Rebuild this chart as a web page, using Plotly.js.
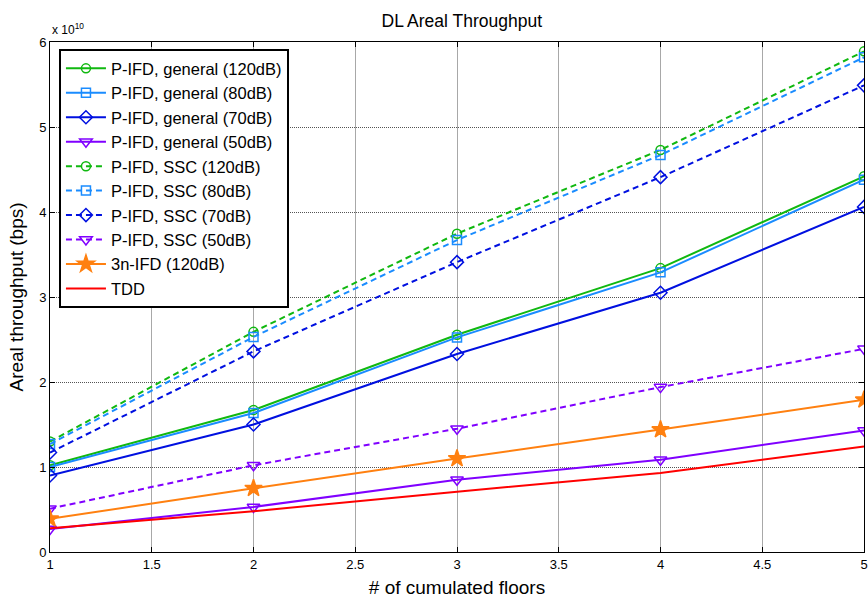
<!DOCTYPE html>
<html>
<head>
<meta charset="utf-8">
<script src="https://cdn.plot.ly/plotly-3.0.1.min.js"></script>
<style>html,body{margin:0;padding:0;background:#fff;}#chart{width:868px;height:600px;}</style>
</head>
<body>
<div id="chart"></div>
<script>
// x values: number of cumulated floors
const floors = [1, 2, 3, 4, 5];
// y values in units of 1e10 bps
const general120 = [1.02, 1.67, 2.556, 3.34, 4.42];
const general80 = [1.00, 1.635, 2.525, 3.29, 4.38];
const general70 = [0.90, 1.50, 2.33, 3.05, 4.06];
const general50 = [0.27, 0.53, 0.85, 1.086, 1.43];
const ssc120 = [1.30, 2.59, 3.745, 4.73, 5.89];
const ssc80 = [1.27, 2.53, 3.67, 4.67, 5.82];
const ssc70 = [1.17, 2.36, 3.41, 4.41, 5.49];
const ssc50 = [0.51, 1.02, 1.45, 1.94, 2.39];
const ifd3n120 = [0.39, 0.75, 1.10, 1.44, 1.79];
const tdd = [0.28, 0.48, 0.71, 0.93, 1.24];

const names = ["P-IFD, general (120dB)", "P-IFD, general (80dB)", "P-IFD, general (70dB)", "P-IFD, general (50dB)",
  "P-IFD, SSC (120dB)", "P-IFD, SSC (80dB)", "P-IFD, SSC (70dB)", "P-IFD, SSC (50dB)", "3n-IFD (120dB)", "TDD"];
const yTickVals = [0, 1, 2, 3, 4, 5, 6];
const xTickVals = [1, 1.5, 2, 2.5, 3, 3.5, 4, 4.5, 5];

const cGreen = "#10b810", cLight = "#1a8cff", cBlue = "#0010e0", cPurple = "#8000ff", cOrange = "#ff8010", cRed = "#ff0000";
const dashP = "6px,4px";

function tr(y, name, color, symbol, dash, size) {
  const t = {x: floors, y: y, name: name, type: "scatter",
    mode: symbol ? "lines+markers" : "lines",
    line: {color: color, width: 2, dash: dash || "solid"}};
  if (symbol) {
    t.marker = {symbol: symbol, size: size || 9, color: color, line: {color: color, width: 1.5}};
  }
  return t;
}

const data = [
  tr(general120, names[0], cGreen, "circle-open", null, 9),
  tr(general80, names[1], cLight, "square-open", null, 9),
  tr(general70, names[2], cBlue, "diamond-open", null, 10),
  tr(general50, names[3], cPurple, "triangle-down-open", null, 11),
  tr(ssc120, names[4], cGreen, "circle-open", dashP, 9),
  tr(ssc80, names[5], cLight, "square-open", dashP, 9),
  tr(ssc70, names[6], cBlue, "diamond-open", dashP, 10),
  tr(ssc50, names[7], cPurple, "triangle-down-open", dashP, 11),
  tr(ifd3n120, names[8], cOrange, "star", null, 13),
  tr(tdd, names[9], cRed, null, null)
];

const font = "Liberation Sans, Arial, sans-serif";
const layout = {
  width: 868, height: 600,
  margin: {l: 50, r: 4, t: 42, b: 48},
  paper_bgcolor: "#fff", plot_bgcolor: "#fff",
  font: {family: font, color: "#000", size: 12},
  showlegend: true,
  title: {text: "DL Areal Throughput", font: {size: 17.5, family: font, color: "#000"}, x: 0.532, xanchor: "center", y: 0.965, yanchor: "middle"},
  xaxis: {
    range: [1, 5], tickvals: xTickVals, ticktext: xTickVals.map(String),
    ticks: "inside", ticklen: 5, tickcolor: "#000", mirror: "ticks",
    showline: true, linecolor: "#000", linewidth: 1,
    showgrid: true, gridcolor: "#a8a8a8", gridwidth: 1,
    zeroline: false, tickfont: {size: 13},
    title: {text: "# of cumulated floors", font: {size: 19}, standoff: 10}
  },
  yaxis: {
    range: [0, 6], tickvals: yTickVals, ticktext: yTickVals.map(String),
    ticks: "inside", ticklen: 5, tickcolor: "#000", mirror: "ticks",
    showline: true, linecolor: "#000", linewidth: 1,
    showgrid: true, gridcolor: "#555", griddash: "1px,1px", gridwidth: 1,
    zeroline: false, tickfont: {size: 13},
    title: {text: "Areal throughput (bps)", font: {size: 19}, standoff: 10}
  },
  legend: {
    x: 0.011, y: 0.986, xanchor: "left", yanchor: "top",
    bgcolor: "#fff", bordercolor: "#000", borderwidth: 2,
    font: {size: 16.5, family: font, color: "#000"},
    tracegroupgap: 0, itemwidth: 40
  },
  annotations: [{
    text: "x 10<sup>10</sup>", xref: "paper", yref: "paper", x: 0, y: 1, xanchor: "left", yanchor: "bottom",
    yshift: 3, showarrow: false, font: {size: 12, family: font, color: "#000"}
  }]
};

Plotly.newPlot("chart", data, layout, {displayModeBar: false, staticPlot: true});
</script>
</body>
</html>
